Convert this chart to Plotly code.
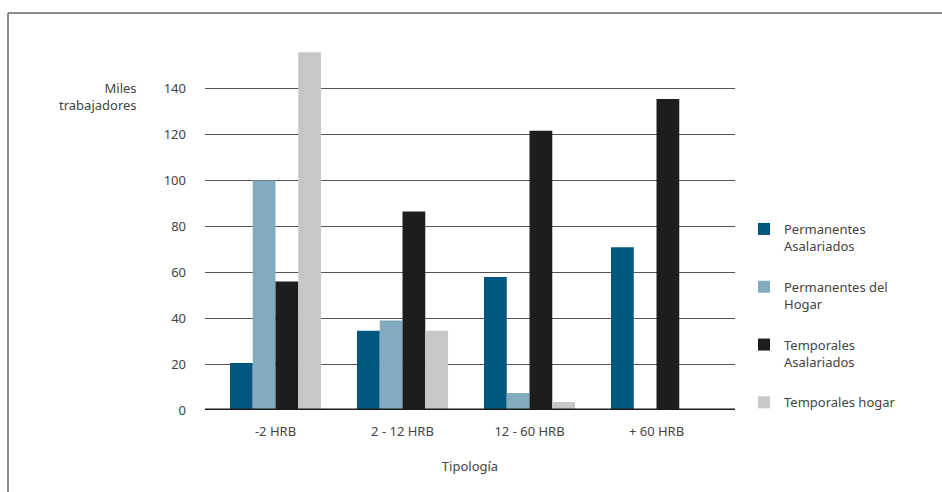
import plotly.graph_objects as go

categories = ["-2 HRB", "2 - 12 HRB", "12 - 60 HRB", "+ 60 HRB"]
series_names = ["Permanentes<br>Asalariados", "Permanentes del<br>Hogar",
                "Temporales<br>Asalariados", "Temporales hogar"]
perm_asal = [20.5, 34.5, 58, 71]
perm_hogar = [100, 39, 7.4, 0]
temp_asal = [56, 86.5, 121.7, 135.6]
temp_hogar = [156, 34.5, 3.5, 0]
colors = ["#01577f", "#82abbf", "#1d1d1b", "#c6c7c6"]
y_ticks = [0, 20, 40, 60, 80, 100, 120, 140]

fig = go.Figure()
for i, (name, vals) in enumerate(zip(series_names, [perm_asal, perm_hogar, temp_asal, temp_hogar])):
    fig.add_trace(go.Bar(x=categories, y=vals, name=name, marker_color=colors[i],
                         marker_line_width=0, legendgroup=f"g{i}"))

W, H = 942, 492
L, R, T, B = 205, 207, 43, 82
pw, ph = W - L - R, H - T - B

def px(x):
    return (x - L) / pw

def py(y):
    return (H - B - y) / ph

font_color = "#444444"
fig.update_layout(
    width=W, height=H,
    margin=dict(l=L, r=R, t=T, b=B, autoexpand=False),
    paper_bgcolor="white", plot_bgcolor="white",
    font=dict(family="Noto Sans", size=13, color=font_color),
    barmode="group", bargap=0.283, bargroupgap=0,
    xaxis=dict(range=[-0.555, 3.618], showgrid=False, zeroline=False,
               showline=False, ticks="", ticklabelstandoff=12,
               title=dict(text="Tipología", standoff=22, font=dict(size=13, color=font_color))),
    yaxis=dict(range=[0, 160], tickvals=y_ticks, showgrid=True, gridcolor="#555555",
               gridwidth=1.2, zeroline=False, showline=False, ticks="",
               ticklabelstandoff=18),
    legend=dict(x=px(744), y=py(214), xanchor="left", yanchor="top",
                tracegroupgap=21, valign="top", itemwidth=30,
                font=dict(size=13, color=font_color), bgcolor="rgba(0,0,0,0)"),
    showlegend=True,
)

# baseline
fig.add_shape(type="line", xref="paper", yref="y", x0=0, x1=1, y0=0, y1=0,
              line=dict(color="#1d1d1b", width=3))
# frame lines
fig.add_shape(type="line", xref="paper", yref="paper", x0=px(8), x1=px(8),
              y0=py(13), y1=py(492), line=dict(color="#666666", width=1.5))
fig.add_shape(type="line", xref="paper", yref="paper", x0=px(8), x1=px(942),
              y0=py(13), y1=py(13), line=dict(color="#666666", width=1.5))

fig.add_annotation(text="Miles<br>trabajadores", xref="paper", yref="paper",
                   x=px(139), y=py(97), xanchor="right", yanchor="middle",
                   align="right", showarrow=False,
                   font=dict(size=13, color=font_color))

fig.write_html("out.html", config={"displayModeBar": False},
               post_script="document.body.style.margin='0';document.body.style.overflow='hidden';")
